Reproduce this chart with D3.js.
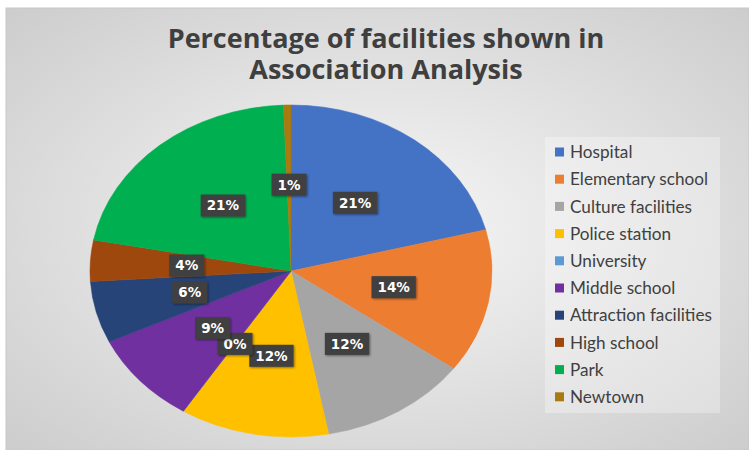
<!DOCTYPE html>
<html>
<head>
<meta charset="utf-8">
<script src="https://cdn.jsdelivr.net/npm/d3@7"></script>
<style>
  body { margin: 0; background: #fff; }
  svg { display: block; }
</style>
</head>
<body>
<div id="chart"></div>
<script>
// data
var categories = ["Hospital", "Elementary school", "Culture facilities", "Police station",
                  "University", "Middle school", "Attraction facilities", "High school",
                  "Park", "Newtown"];
var values = [21, 14, 12, 12, 0, 9, 6, 4, 21.4, 0.6];
var colors = ["#4472c4", "#ed7d31", "#a5a5a5", "#ffc000", "#5b9bd5",
              "#7030a0", "#264478", "#9e480e", "#00b050", "#a87a0f"];
var titleLines = ["Percentage of facilities shown in", "Association Analysis"];

var W = 749, H = 450;

var svg = d3.select("#chart")
    .append("svg")
    .attr("width", W)
    .attr("height", H);

var defs = svg.append("defs");
var grad = defs.append("radialGradient")
    .attr("id", "bg")
    .attr("cx", "50%").attr("cy", "50%").attr("r", "70%");
grad.append("stop").attr("offset", "0%").attr("stop-color", "#f7f7f7");
grad.append("stop").attr("offset", "100%").attr("stop-color", "#cdcdcd");

var shadow = defs.append("filter").attr("id", "shadow")
    .attr("x", "-30%").attr("y", "-30%").attr("width", "160%").attr("height", "160%");
shadow.append("feDropShadow")
    .attr("dx", 1).attr("dy", 1).attr("stdDeviation", 1.2)
    .attr("flood-color", "#000").attr("flood-opacity", 0.45);

// chart area background
svg.append("rect")
    .attr("x", 6).attr("y", 8)
    .attr("width", W - 6).attr("height", H - 8)
    .attr("fill", "url(#bg)")
    .attr("stroke", "#c8c8c8");

// title
var title = svg.append("g");
title.selectAll("text")
    .data(titleLines)
    .enter().append("text")
    .attr("x", 386)
    .attr("y", function(d, i) { return 48 + i * 31; })
    .attr("text-anchor", "middle")
    .style("font-family", "'Open Sans', sans-serif")
    .style("font-weight", "bold")
    .style("font-size", "23px")
    .attr("fill", "#3f3f3f")
    .text(function(d) { return d; });
// fit first line to its width in the reference
var t0 = title.select("text").node();
var fs = Math.min(27, 23 * 444 / t0.getComputedTextLength());
title.selectAll("text").style("font-size", fs + "px");

// pie (the reference is stretched horizontally, so scale x)
var cx = 291, cy = 271, ry = 166, rx = 201;
var sx = rx / ry;

var pie = d3.pie().sort(null).value(function(d) { return d; });
var arcs = pie(values);
var arc = d3.arc().innerRadius(0).outerRadius(ry);
var labelArc = d3.arc().innerRadius(ry * 0.52).outerRadius(ry * 0.52);

var pieG = svg.append("g")
    .attr("transform", "translate(" + cx + "," + cy + ") scale(" + sx + ",1)");

pieG.selectAll("path")
    .data(arcs)
    .enter().append("path")
    .attr("d", arc)
    .attr("fill", function(d, i) { return colors[i]; })
    .attr("stroke", function(d, i) { return colors[i]; })
    .attr("stroke-width", 0.5);

// data labels
var labels = svg.append("g")
    .attr("transform", "translate(" + cx + "," + cy + ")");

var lab = labels.selectAll("g")
    .data(arcs)
    .enter().append("g")
    .attr("transform", function(d) {
        var c = labelArc.centroid(d);
        return "translate(" + (c[0] * sx) + "," + c[1] + ")";
    });

lab.append("rect")
    .attr("fill", "#404040")
    .attr("filter", "url(#shadow)");

lab.append("text")
    .attr("text-anchor", "middle")
    .attr("dy", "0.36em")
    .style("font-family", "'DejaVu Sans', sans-serif")
    .style("font-weight", "bold")
    .style("font-size", "13.5px")
    .attr("fill", "#fff")
    .text(function(d) { return Math.round(d.value) + "%"; });

lab.each(function() {
    var g = d3.select(this);
    var w = g.select("text").node().getComputedTextLength();
    g.select("rect")
        .attr("x", -w / 2 - 6).attr("y", -11)
        .attr("width", w + 12).attr("height", 22);
});

// legend
var legend = svg.append("g");
legend.append("rect")
    .attr("x", 545).attr("y", 137)
    .attr("width", 175).attr("height", 276)
    .attr("fill", "#ffffff").attr("fill-opacity", 0.3);

var item = legend.selectAll("g.item")
    .data(categories)
    .enter().append("g")
    .attr("class", "item")
    .attr("transform", function(d, i) { return "translate(555," + (152 + i * 27.2) + ")"; });

item.append("rect")
    .attr("x", 0).attr("y", -4.5)
    .attr("width", 9).attr("height", 9)
    .attr("fill", function(d, i) { return colors[i]; });

item.append("text")
    .attr("x", 15)
    .attr("dy", "0.36em")
    .style("font-family", "Lato, 'Open Sans', sans-serif")
    .style("font-size", "14px")
    .attr("fill", "#404040")
    .text(function(d) { return d; });

// fit legend text to the reference width of "Attraction facilities"
var at = item.filter(function(d) { return d === "Attraction facilities"; }).select("text").node();
var lfs = 14 * 142 / at.getComputedTextLength();
item.selectAll("text").style("font-size", lfs + "px");
</script>
</body>
</html>
